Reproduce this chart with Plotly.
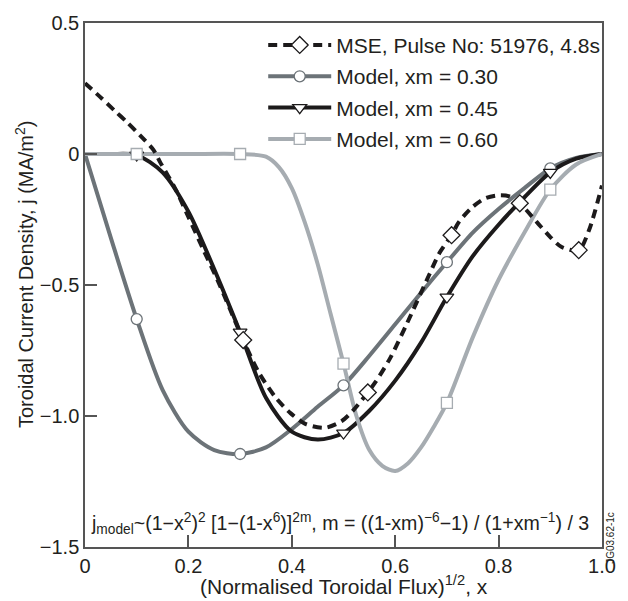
import plotly.graph_objects as go

# ---------------- data ----------------
x_mse = [0, 0.032, 0.057, 0.082, 0.107, 0.133, 0.145, 0.174, 0.2, 0.23, 0.256, 0.28,
         0.306, 0.335, 0.369, 0.398, 0.426, 0.464, 0.496, 0.518, 0.547, 0.562, 0.59,
         0.622, 0.666, 0.685, 0.709, 0.723, 0.748, 0.773, 0.799, 0.821, 0.841, 0.874,
         0.9, 0.922, 0.955, 0.975, 1.0]
y_mse = [0.27, 0.213, 0.166, 0.12, 0.07, 0.014, -0.03, -0.13, -0.24, -0.37, -0.48, -0.59,
         -0.71, -0.83, -0.93, -0.99, -1.03, -1.045, -1.02, -0.98, -0.91, -0.87, -0.78,
         -0.65, -0.46, -0.38, -0.31, -0.26, -0.205, -0.17, -0.158, -0.162, -0.188, -0.26,
         -0.317, -0.355, -0.367, -0.29, -0.12]
mse_marker_idx = [12, 20, 26, 32, 36]

x_xm030 = [0, 0.05, 0.1, 0.15, 0.2, 0.25, 0.3, 0.35, 0.4, 0.45, 0.5,
           0.55, 0.6, 0.65, 0.7, 0.75, 0.8, 0.85, 0.9, 0.95, 1.0]
y_xm030 = [0, -0.32, -0.63, -0.90, -1.06, -1.13, -1.145, -1.12, -1.05, -0.965, -0.883,
           -0.77, -0.65, -0.53, -0.413, -0.30, -0.21, -0.13, -0.055, -0.015, 0]
m030_idx = [2, 6, 10, 14, 18]

x_xm045 = [0, 0.05, 0.1, 0.15, 0.2, 0.25, 0.3, 0.35, 0.4, 0.45, 0.5,
           0.55, 0.6, 0.65, 0.7, 0.75, 0.8, 0.85, 0.9, 0.95, 1.0]
y_xm045 = [0, 0, -0.004, -0.07, -0.22, -0.44, -0.68, -0.93, -1.06, -1.09, -1.065,
           -0.98, -0.865, -0.72, -0.546, -0.39, -0.27, -0.165, -0.07, -0.018, 0]
m045_idx = [2, 6, 10, 14, 18]

x_xm060 = [0, 0.1, 0.2, 0.3, 0.35, 0.375, 0.4, 0.425, 0.45, 0.475, 0.5, 0.525, 0.55,
           0.575, 0.6, 0.625, 0.65, 0.675, 0.7, 0.75, 0.8, 0.85, 0.9, 0.95, 1.0]
y_xm060 = [0, 0, 0, 0, -0.01, -0.05, -0.13, -0.26, -0.42, -0.61, -0.80, -1.00, -1.13,
           -1.19, -1.21, -1.18, -1.12, -1.04, -0.95, -0.70, -0.48, -0.30, -0.136, -0.04, 0]
m060_idx = [1, 3, 10, 18, 22]

x_tickvals = [0, 0.2, 0.4, 0.6, 0.8, 1.0]
x_ticktext = ["0", "0.2", "0.4", "0.6", "0.8", "1.0"]
y_tickvals = [0.5, 0, -0.5, -1.0, -1.5]
y_ticktext = ["0.5", "0", "\u22120.5", "\u22121.0", "\u22121.5"]

names = ["MSE, Pulse No: 51976, 4.8s", "Model, xm = 0.30", "Model, xm = 0.45", "Model, xm = 0.60"]

# ---------------- styles ----------------
FONT = "Liberation Sans, Arial, Helvetica, sans-serif"
TXT = "#231f20"
C_MSE = "#1c1a1b"
C030 = "#6c7378"
C045 = "#1c1a1b"
C060 = "#a6acb1"
LW = 4
AX = "#555555"

fig = go.Figure()

series = [
    (x_xm030, y_xm030, C030, "circle", names[1], m030_idx, "solid", 11),
    (x_xm045, y_xm045, C045, "triangle-down", names[2], m045_idx, "solid", 12),
    (x_xm060, y_xm060, C060, "square", names[3], m060_idx, "solid", 11),
    (x_mse, y_mse, C_MSE, "diamond", names[0], mse_marker_idx, "9px,6px", 13),
]

# lines
for xs, ys, col, sym, nm, idx, dash, ms in series:
    fig.add_trace(go.Scatter(x=xs, y=ys, mode="lines", showlegend=False,
                             line=dict(color=col, width=LW, dash=dash, shape="spline", smoothing=0.8),
                             hoverinfo="skip"))
# markers
for xs, ys, col, sym, nm, idx, dash, ms in series:
    fig.add_trace(go.Scatter(x=[xs[i] for i in idx], y=[ys[i] for i in idx], mode="markers",
                             showlegend=False,
                             marker=dict(symbol=sym, size=ms, color="white",
                                         line=dict(color=col, width=1.3))))
# legend entries (order as in reference)
leg_order = [series[3], series[0], series[1], series[2]]
for k, (xs, ys, col, sym, nm, idx, dash, ms) in enumerate(leg_order):
    fig.add_trace(go.Scatter(x=[None], y=[None], mode="lines+markers", name=nm,
                             legendgroup=f"g{k}",
                             line=dict(color=col, width=LW, dash=dash),
                             marker=dict(symbol=sym, size=ms, color="white",
                                         line=dict(color=col, width=1.3))))

axis_common = dict(showline=True, linecolor=AX, linewidth=1.5, mirror=True,
                   ticks="inside", ticklen=12, tickwidth=1.5, tickcolor=AX,
                   showgrid=False, zeroline=False,
                   tickfont=dict(family=FONT, size=20, color=TXT))

fig.update_layout(
    width=628, height=601,
    margin=dict(l=85, r=15, t=13, b=54),
    paper_bgcolor="white", plot_bgcolor="white",
    font=dict(family=FONT, color=TXT),
    xaxis=dict(range=[0, 1], tickvals=x_tickvals, ticktext=x_ticktext, **axis_common),
    yaxis=dict(range=[-1.5, 0.5], tickvals=y_tickvals, ticktext=y_ticktext, **axis_common),
    legend=dict(x=0.3447, y=0.9965, xanchor="left", yanchor="top",
                bgcolor="rgba(0,0,0,0)", borderwidth=0,
                font=dict(family=FONT, size=21, color=TXT),
                itemwidth=63, tracegroupgap=1),
    showlegend=True,
)

# axis titles
fig.add_annotation(
    xref="paper", yref="paper", x=0.5, y=-0.073, xanchor="center", yanchor="middle",
    showarrow=False, text="(Normalised Toroidal Flux)<sup>1/2</sup>, x",
    font=dict(family=FONT, size=21, color=TXT),
)
fig.add_annotation(
    xref="paper", yref="paper", x=-0.117, y=0.52, xanchor="center", yanchor="middle",
    showarrow=False, textangle=-90,
    text="Toroidal Current Density, j (MA/m<sup>2</sup>)",
    font=dict(family=FONT, size=20, color=TXT),
)
# model formula
fig.add_annotation(
    xref="paper", yref="paper", x=0.007, y=0.045, xanchor="left", yanchor="middle",
    showarrow=False,
    text="j<sub>model</sub>~(1\u2212x<sup>2</sup>)<sup>2</sup> [1\u2212(1-x<sup>6</sup>)]<sup>2m</sup>, "
         "m = ((1-xm)<sup>\u22126</sup>\u22121) / (1+xm<sup>\u22121</sup>) / 3",
    font=dict(family=FONT, size=19.6, color=TXT),
)
# figure code
fig.add_annotation(
    xref="paper", yref="paper", x=1.015, y=0.017, xanchor="center", yanchor="middle",
    showarrow=False, textangle=-90, text="JG03.62-1c",
    font=dict(family=FONT, size=10, color=TXT),
)

fig.write_html("out.html")
